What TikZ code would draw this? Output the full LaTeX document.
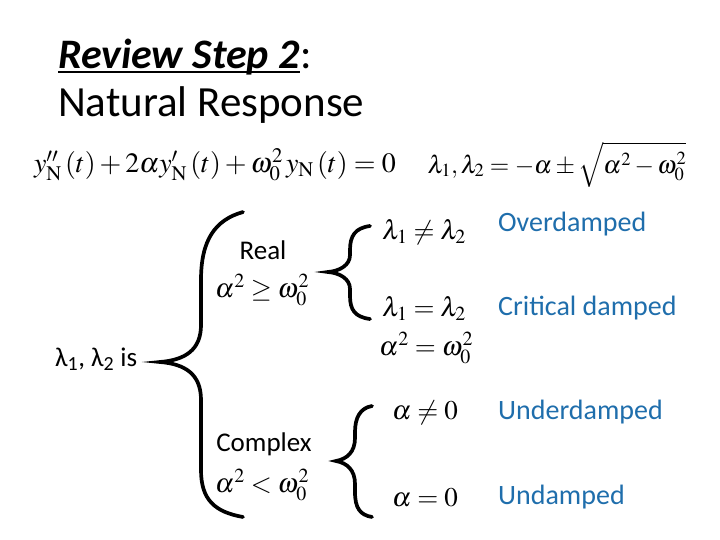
\documentclass[tikz,border=0pt]{standalone}
\usepackage{mathptmx}
\usepackage[no-math]{fontspec}
\setmainfont{Carlito}
\usepackage{tikz}
\definecolor{dampcolor}{RGB}{31,110,172}

\begin{document}
\begin{tikzpicture}[
    x=1pt, y=-1pt,
    titletext/.style={anchor=base west, inner sep=0pt, font=\fontsize{43}{50}\selectfont},
    eqtext/.style={inner sep=0pt, font=\fontsize{28}{34}\selectfont},
    casetext/.style={anchor=base, inner sep=0pt, font=\fontsize{27}{32}\selectfont},
    condtext/.style={inner sep=0pt, font=\fontsize{27}{32}\selectfont},
    damptext/.style={anchor=base west, inner sep=0pt, text=dampcolor, font=\fontsize{28}{34}\selectfont},
    bracket/.style={line width=3.7pt, line cap=round}
]
\useasboundingbox (0,0) rectangle (720,540);

% Title
\node[titletext, font=\fontsize{42}{50}\selectfont\bfseries\itshape] (title) at (58,69) {Review Step 2};
\node[titletext, anchor=base west] (colon) at (title.base east) {:};
\draw[line width=2.2pt] ([yshift=-3pt]title.base west) -- ([yshift=-3pt]title.base east);
\node[titletext] (subtitle) at (58,117) {Natural Response};

% Equation and roots
\node[eqtext] (diffeq) at (215,165) {$y''_{\mathrm{N}}\left(t\right)+2\alpha y'_{\mathrm{N}}\left(t\right)+\omega_0^2\,y_{\mathrm{N}}\left(t\right)=0$};
\node[eqtext, font=\fontsize{25}{30}\selectfont] (roots) at (557,165) {$\lambda_1,\lambda_2=-\alpha\pm\sqrt{\alpha^2-\omega_0^2}$};

% Root cases
\node[casetext, anchor=base west] (lambdas) at (55,366) {λ\textsubscript{1}, λ\textsubscript{2} is};
\node[casetext] (real) at (263,259) {Real};
\node[condtext] (realcond) at (262,290) {$\alpha^2\geq\omega_0^2$};
\node[casetext] (complex) at (264,451) {Complex};
\node[condtext] (complexcond) at (262,485) {$\alpha^2<\omega_0^2$};

% Sub cases
\node[condtext] (distinct) at (424,232) {$\lambda_1\neq\lambda_2$};
\node[condtext] (equal) at (424,308) {$\lambda_1=\lambda_2$};
\node[condtext] (equalcond) at (426,348) {$\alpha^2=\omega_0^2$};
\node[condtext] (alphanz) at (425,413) {$\alpha\neq0$};
\node[condtext] (alphaz) at (425,498) {$\alpha=0$};

% Damping labels
\node[damptext] (over) at (498,232) {Overdamped};
\node[damptext] (critical) at (498,315) {Critical damped};
\node[damptext] (under) at (498,419) {Underdamped};
\node[damptext] (undamped) at (498,504) {Undamped};

% Braces
\draw[bracket] (243,212) .. controls (215,220) and (201,240) .. (201,280)
    -- (201,325) .. controls (201,350) and (185,360) .. (160,362)
    .. controls (185,364) and (201,374) .. (201,400)
    -- (201,470) .. controls (201,500) and (215,512) .. (243,517);
\draw[bracket] (370,226) .. controls (355,228) and (350,236) .. (350,250)
    -- (350,255) .. controls (350,265) and (340,271) .. (328,272)
    .. controls (340,273) and (350,279) .. (350,289)
    -- (350,296) .. controls (350,310) and (355,317) .. (370,319);
\draw[bracket] (372,406) .. controls (360,408) and (355,418) .. (355,432)
    -- (355,438) .. controls (355,452) and (347,459) .. (336,461)
    .. controls (347,463) and (355,470) .. (355,484)
    -- (355,492) .. controls (355,508) and (360,515) .. (372,517);

\end{tikzpicture}
\end{document}
